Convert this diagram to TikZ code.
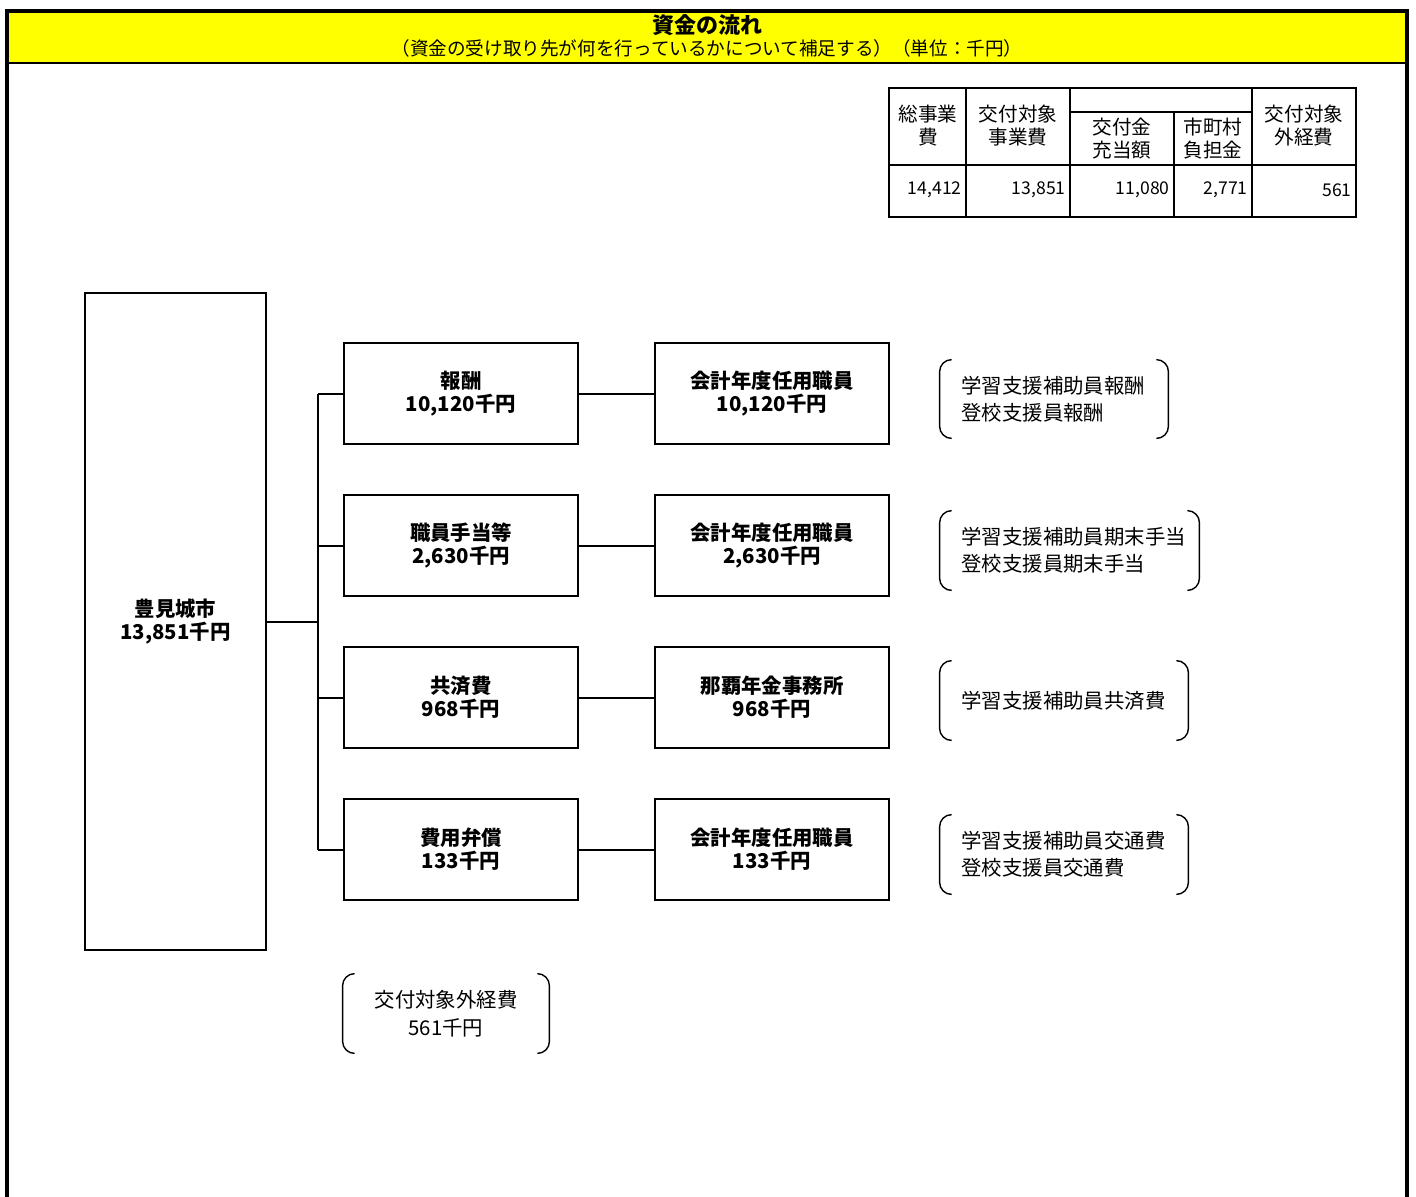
\documentclass[tikz,border=0pt]{standalone}
\usepackage{fontspec}
\setmainfont{Noto Sans CJK JP}
\definecolor{hdr}{RGB}{255,255,0}
\begin{document}
\begin{tikzpicture}[x=0.5pt,y=-0.5pt,
  box/.style={draw,line width=1pt,minimum width=117pt,minimum height=50.5pt,inner sep=0pt,align=center,font=\fontsize{10.2}{11.5}\selectfont\bfseries},
  bigbox/.style={draw,line width=1pt,minimum width=90.5pt,minimum height=328.5pt,inner sep=0pt,align=center,font=\fontsize{10.2}{11.5}\selectfont\bfseries},
  note/.style={inner sep=0pt,align=left,font=\fontsize{10.2}{13.5}\selectfont},
  brk/.style={line width=0.7pt,rounded corners=6pt},
  tbl/.style={font=\fontsize{9.8}{11.5}\selectfont,align=center,inner sep=0pt},
  num/.style={font=\fontsize{8.8}{10}\selectfont,inner sep=0pt,anchor=east},
  conn/.style={line width=1pt}]
\useasboundingbox (0,0) rectangle (1416,1196);
% frame and header
\fill[hdr] (7,11) rectangle (1407,63);
\draw[line width=1pt] (7,63) -- (1407,63);
\draw[line width=1.6pt] (7,1200) -- (7,11) -- (1407,11) -- (1407,1200);
\node[inner sep=0pt,font=\fontsize{11}{12}\selectfont\bfseries] (title) at (707,25) {資金の流れ};
\node[inner sep=0pt,font=\fontsize{9.3}{10}\selectfont] (subtitle) at (707,48) {（資金の受け取り先が何を行っているかについて補足する）（単位：千円）};
% table
\begin{scope}[line width=1pt]
\draw (889,88) rectangle (1356,217);
\draw (889,165) -- (1356,165);
\draw (966,88) -- (966,217);
\draw (1070,88) -- (1070,217);
\draw (1252,88) -- (1252,217);
\draw (1070,112) -- (1252,112);
\draw (1174,112) -- (1174,217);
\end{scope}
\node[tbl] (t1) at (928,126) {総事業\\費};
\node[tbl] (t2) at (1018,126) {交付対象\\事業費};
\node[tbl] (t3) at (1122,139) {交付金\\充当額};
\node[tbl] (t4) at (1213,139) {市町村\\負担金};
\node[tbl] (t5) at (1304,126) {交付対象\\外経費};
\node[num] (v1) at (962,190) {14,412};
\node[num] (v2) at (1066,190) {13,851};
\node[num] (v3) at (1170,190) {11,080};
\node[num] (v4) at (1248,190) {2,771};
\node[num] (v5) at (1352,190) {561};
% boxes
\node[bigbox] (city) at (175.5,621.5) {豊見城市\\13,851千円};
\node[box] (r1) at (461,393.5) {報酬\\10,120千円};
\node[box] (r2) at (461,545.5) {職員手当等\\2,630千円};
\node[box] (r3) at (461,697.5) {共済費\\968千円};
\node[box] (r4) at (461,849.5) {費用弁償\\133千円};
\node[box] (p1) at (772,393.5) {会計年度任用職員\\10,120千円};
\node[box] (p2) at (772,545.5) {会計年度任用職員\\2,630千円};
\node[box] (p3) at (772,697.5) {那覇年金事務所\\968千円};
\node[box] (p4) at (772,849.5) {会計年度任用職員\\133千円};
\coordinate (j) at (318,621.5);
\draw[conn] (city.east) -- (j);
\draw[conn] (j |- r1.west) -- (j |- r4.west);
\foreach \i in {1,2,3,4}{
  \draw[conn] (j |- r\i.west) -- (r\i.west);
  \draw[conn] (r\i.east) -- (p\i.west);
}
% notes with brackets
\newcommand\brackets[1]{%
  \draw[brk] ([xshift=6pt]#1.north west) -- (#1.north west) -- (#1.south west) -- ([xshift=6pt]#1.south west);
  \draw[brk] ([xshift=-6pt]#1.north east) -- (#1.north east) -- (#1.south east) -- ([xshift=-6pt]#1.south east);}
\node[minimum width=114pt,minimum height=39pt,inner sep=0pt] (n1) at (1054,399) {};
\node[note,anchor=west] (n1t) at (961,399) {学習支援補助員報酬\\登校支援員報酬};
\brackets{n1}
\node[minimum width=129.5pt,minimum height=39.5pt,inner sep=0pt] (n2) at (1069.5,550.5) {};
\node[note,anchor=west] (n2t) at (961,550.5) {学習支援補助員期末手当\\登校支援員期末手当};
\brackets{n2}
\node[minimum width=124pt,minimum height=39.5pt,inner sep=0pt] (n3) at (1064,700.5) {};
\node[note,anchor=west] (n3t) at (961,700.5) {学習支援補助員共済費};
\brackets{n3}
\node[minimum width=124pt,minimum height=39.5pt,inner sep=0pt] (n4) at (1064,854.5) {};
\node[note,anchor=west] (n4t) at (961,854.5) {学習支援補助員交通費\\登校支援員交通費};
\brackets{n4}
\node[minimum width=103pt,minimum height=39.5pt,inner sep=0pt] (n5) at (446,1013.5) {};
\node[note,align=center,font=\fontsize{10.2}{14}\selectfont] (n5t) at (446,1013.5) {交付対象外経費\\561千円};
\brackets{n5}
\end{tikzpicture}
\end{document}
